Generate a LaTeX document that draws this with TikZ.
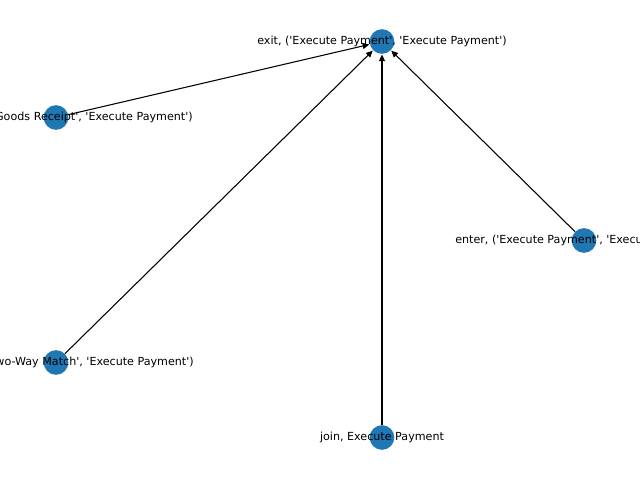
\documentclass[tikz,border=0pt]{standalone}
\usepackage{fontspec}
\setmainfont{DejaVu Sans}[Ligatures=TeXOff]
\usetikzlibrary{arrows.meta,calc}
\definecolor{nodeblue}{HTML}{1F77B4}
\begin{document}
\begin{tikzpicture}[x=0.75pt,y=-0.75pt,
  vertex/.style={circle,fill=nodeblue,draw=none,minimum size=18.5pt,inner sep=0pt},
  link/.style={draw=black,line width=0.8pt,-{Triangle[length=5pt,width=4.5pt]},shorten >=0.3pt},
  lbl/.style={font=\fontsize{8.35}{10}\selectfont,inner sep=0pt,text=black}]
\useasboundingbox (0,0) rectangle (640,480);
\clip (0,0) rectangle (640,480);
% vertices
\node[vertex] (exit)   at (382,41.5)  {};
\node[vertex] (goods)  at (56,117.5)  {};
\node[vertex] (enter)  at (584,240.5) {};
\node[vertex] (twoway) at (56,362.5)  {};
\node[vertex] (join)   at (382,437.5) {};
% edges
\draw[link] (goods)  -- (exit);
\draw[link] (twoway) -- (exit);
\draw[link] (join)   -- (exit);
\draw[link] (enter)  -- (exit);
% labels
\node[lbl] at (exit) {exit, ('Execute Payment', 'Execute Payment')};
\node[lbl,anchor=east] at ($(goods)+(137,0)$) {exit, ('Goods Receipt', 'Execute Payment')};
\node[lbl,anchor=east] at ($(twoway)+(138,0)$) {exit, ('Two-Way Match', 'Execute Payment')};
\node[lbl,anchor=west] at ($(enter)+(-129,0)$) {enter, ('Execute Payment', 'Execute Payment')};
\node[lbl] at (join) {join, Execute Payment};
\end{tikzpicture}
\end{document}
